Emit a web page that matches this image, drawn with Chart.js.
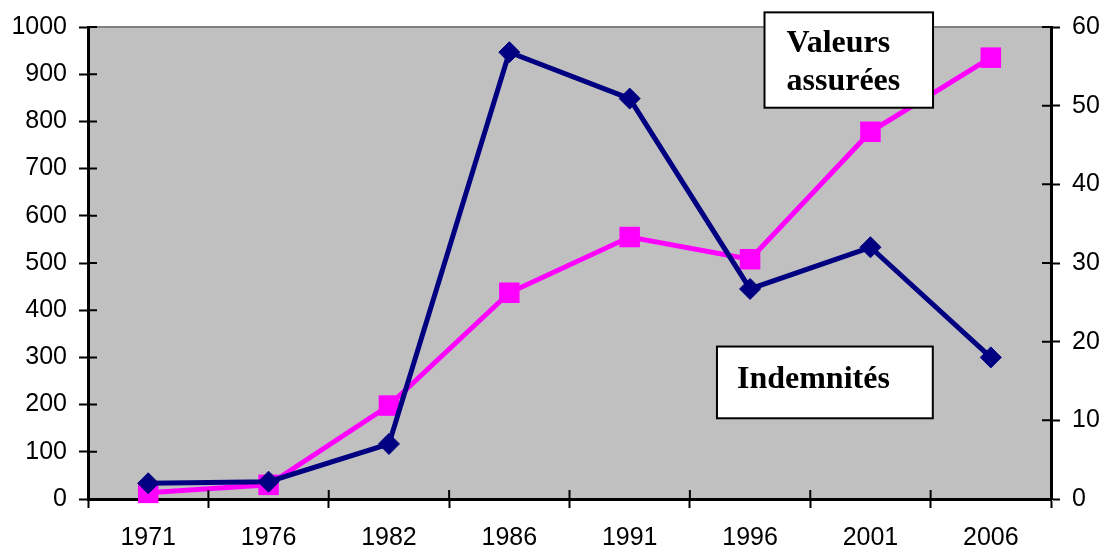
<!DOCTYPE html>
<html lang="fr">
<head>
    <meta charset="UTF-8">
    <title>Valeurs assurées et indemnités</title>
    <style>
        body { margin: 0; background: #fff; }
        #wrap { width: 1107px; height: 550px; position: relative; }
    </style>
</head>
<body>
    <div id="wrap">
        <canvas id="chart"></canvas>
    </div>

    <script src="https://cdn.jsdelivr.net/npm/chart.js"></script>
    <script>
        // data
        var years = ['1971', '1976', '1982', '1986', '1991', '1996', '2001', '2006'];
        var valeurs = [13, 30, 198, 437, 555, 508, 778, 935];      // left axis
        var indemnites = [2.0, 2.2, 7.0, 56.8, 50.9, 26.7, 32.0, 18.0]; // right axis
        var leftTicks = [0, 1000, 100];
        var rightTicks = [0, 60, 10];

        // grey plot area + top border line
        var plotBackground = {
            id: 'plotBackground',
            beforeDraw: function(chart) {
                var ctx = chart.ctx, a = chart.chartArea;
                ctx.save();
                ctx.fillStyle = '#c0c0c0';
                ctx.fillRect(a.left, a.top, a.right - a.left, a.bottom - a.top);
                ctx.strokeStyle = '#808080';
                ctx.lineWidth = 2;
                ctx.beginPath();
                ctx.moveTo(a.left, a.top);
                ctx.lineTo(a.right, a.top);
                ctx.stroke();
                ctx.restore();
            }
        };

        // tick marks cross the axis lines, draw the inner half here
        var innerTicks = {
            id: 'innerTicks',
            afterDatasetsDraw: function(chart) {
                var ctx = chart.ctx, len = 9;
                ctx.save();
                ctx.strokeStyle = '#000';
                ctx.lineWidth = 2;
                ctx.beginPath();
                var y = chart.scales.y, y2 = chart.scales.y2, x = chart.scales.x;
                y.ticks.forEach(function(t) {
                    var p = y.getPixelForValue(t.value);
                    ctx.moveTo(y.right, p); ctx.lineTo(y.right + len, p);
                });
                y2.ticks.forEach(function(t) {
                    var p = y2.getPixelForValue(t.value);
                    ctx.moveTo(y2.left, p); ctx.lineTo(y2.left - len, p);
                });
                for (var i = 0; i <= years.length; i++) {
                    var px = x.getPixelForValue(i - 0.5);
                    ctx.moveTo(px, x.top); ctx.lineTo(px, x.top - len);
                }
                ctx.stroke();
                ctx.restore();
            }
        };

        // the two text boxes, placed in category / left-axis units
        var noteBoxes = [
            { lines: ['Valeurs', 'assurées'], x0: 5.12, x1: 6.52, y0: 1031, y1: 829, dx: 22, dy: 40 },
            { lines: ['Indemnités'], x0: 4.725, x1: 6.518, y0: 323, y1: 171, dx: 20, dy: 41 }
        ];
        var notes = {
            id: 'notes',
            afterDraw: function(chart) {
                var ctx = chart.ctx, x = chart.scales.x, y = chart.scales.y;
                ctx.save();
                noteBoxes.forEach(function(b) {
                    var l = x.getPixelForValue(b.x0), r = x.getPixelForValue(b.x1);
                    var t = y.getPixelForValue(b.y0), bt = y.getPixelForValue(b.y1);
                    ctx.fillStyle = '#fff';
                    ctx.fillRect(l, t, r - l, bt - t);
                    ctx.strokeStyle = '#000';
                    ctx.lineWidth = 2;
                    ctx.strokeRect(l, t, r - l, bt - t);
                    ctx.fillStyle = '#000';
                    ctx.font = 'bold 32px "Liberation Serif", "Times New Roman", serif';
                    ctx.textBaseline = 'alphabetic';
                    b.lines.forEach(function(s, k) {
                        ctx.fillText(s, l + b.dx, t + b.dy + k * 38);
                    });
                });
                ctx.restore();
            }
        };

        Chart.defaults.font.family = '"Liberation Sans", Arial, sans-serif';
        Chart.defaults.font.size = 25;
        Chart.defaults.color = '#000';

        function plain(v) { return String(v); }

        var ctx = document.getElementById('chart').getContext('2d');
        var myChart = new Chart(ctx, {
            type: 'line',
            data: {
                labels: years,
                datasets: [{
                    label: 'Indemnités',
                    data: indemnites,
                    yAxisID: 'y2',
                    borderColor: '#000080',
                    backgroundColor: '#000080',
                    borderWidth: 5,
                    pointStyle: 'rectRot',
                    pointRadius: 10.5,
                    pointBorderWidth: 1,
                    tension: 0,
                    clip: false
                }, {
                    label: 'Valeurs assurées',
                    data: valeurs,
                    yAxisID: 'y',
                    borderColor: '#ff00ff',
                    backgroundColor: '#ff00ff',
                    borderWidth: 5,
                    pointStyle: 'rect',
                    pointRadius: 14.5,
                    pointBorderWidth: 0,
                    tension: 0,
                    clip: false
                }]
            },
            options: {
                responsive: true,
                maintainAspectRatio: false,
                animation: false,
                layout: { padding: { top: 25, left: 0, right: 0, bottom: 0 } },
                plugins: {
                    legend: { display: false },
                    tooltip: { enabled: false }
                },
                scales: {
                    x: {
                        offset: true,
                        grid: { offset: true, drawOnChartArea: false, tickLength: 9, tickWidth: 2, tickColor: '#000' },
                        border: { color: '#000', width: 3 },
                        ticks: { padding: 15, maxRotation: 0 },
                        afterFit: function(scale) { scale.height = 51; }
                    },
                    y: {
                        position: 'left',
                        min: leftTicks[0],
                        max: leftTicks[1],
                        grid: { drawOnChartArea: false, tickLength: 9, tickWidth: 2, tickColor: '#000' },
                        border: { color: '#000', width: 3 },
                        ticks: { stepSize: leftTicks[2], padding: 12, callback: plain },
                        afterFit: function(scale) { scale.width = 88; }
                    },
                    y2: {
                        position: 'right',
                        min: rightTicks[0],
                        max: rightTicks[1],
                        grid: { drawOnChartArea: false, tickLength: 9, tickWidth: 2, tickColor: '#000' },
                        border: { color: '#000', width: 3 },
                        ticks: { stepSize: rightTicks[2], padding: 12, callback: plain },
                        afterFit: function(scale) { scale.width = 56; }
                    }
                }
            },
            plugins: [plotBackground, innerTicks, notes]
        });
    </script>
</body>
</html>
